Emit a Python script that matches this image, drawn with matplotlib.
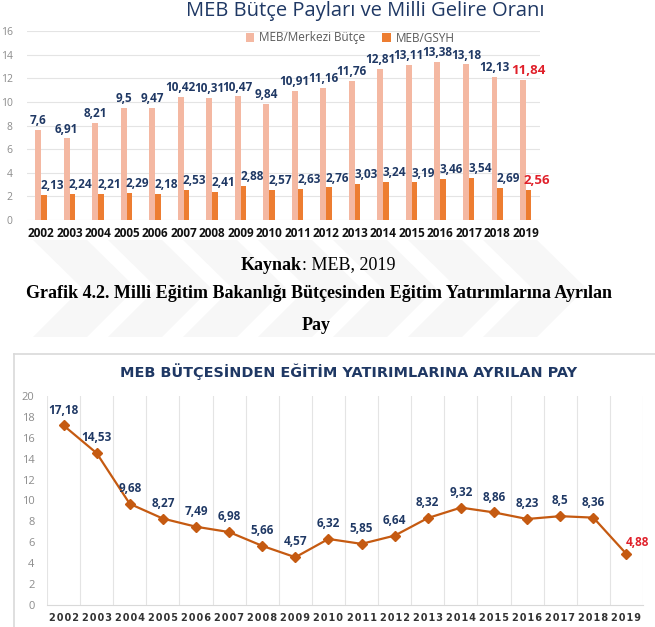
import matplotlib
matplotlib.use("Agg")
import matplotlib.pyplot as plt
import numpy as np
from matplotlib.lines import Line2D
from matplotlib.patches import Polygon


# -----
# DATA
# -----
years = ["2002", "2003", "2004", "2005", "2006", "2007", "2008", "2009", "2010",
         "2011", "2012", "2013", "2014", "2015", "2016", "2017", "2018", "2019"]
meb_merkezi = [7.6, 6.91, 8.21, 9.5, 9.47, 10.42, 10.31, 10.47, 9.84,
               10.91, 11.16, 11.76, 12.81, 13.11, 13.38, 13.18, 12.13, 11.84]
meb_gsyh = [2.13, 2.24, 2.21, 2.29, 2.18, 2.53, 2.41, 2.88, 2.57,
            2.63, 2.76, 3.03, 3.24, 3.19, 3.46, 3.54, 2.69, 2.56]
yatirim_payi = [17.18, 14.53, 9.68, 8.27, 7.49, 6.98, 5.66, 4.57, 6.32,
                5.85, 6.64, 8.32, 9.32, 8.86, 8.23, 8.5, 8.36, 4.88]

W, H = 655, 627
NAVY = "#1F3864"
RED = "#E0202A"
PINK = "#F4B8A2"
ORANGE = "#ED7D31"
LINE_COLOR = "#C55A11"
SANS = ["Open Sans", "DejaVu Sans"]
SERIF = ["Liberation Serif", "DejaVu Serif"]


def fx(px):
    return px / W


def fy(px):
    return 1 - px / H


def fmt(v):
    return f"{v:g}".replace(".", ",")


fig = plt.figure(figsize=(W / 100, H / 100), dpi=100)
fig.patch.set_facecolor("white")

# faint watermark chevrons behind the captions
for k in range(7):
    x0 = 33 + 75 * k
    pts = [(x0, 337), (x0 + 54, 337), (x0 + 54 + 49, 288), (x0 + 54, 240),
           (x0, 240), (x0 + 49, 288)]
    fig.add_artist(Polygon([(fx(a), fy(b)) for a, b in pts], closed=True,
                           facecolor="#F7F7F7", edgecolor="none",
                           transform=fig.transFigure, zorder=0))

# -------------------------
# TOP CHART - BAR CHART
# -------------------------
ax1 = fig.add_axes([fx(26.75), fy(220), fx(513.25), 189 / H])
x = np.arange(len(years))
bw = 0.2
ax1.bar(x - bw / 2, meb_merkezi, bw, color=PINK, label="MEB/Merkezi Bütçe", zorder=2)
ax1.bar(x + bw / 2, meb_gsyh, bw, color=ORANGE, label="MEB/GSYH", zorder=2)

ax1.set_xlim(-0.5, len(years) - 0.5)
ax1.set_ylim(0, 16)
ax1.set_yticks(range(0, 17, 2))
ax1.set_xticks(x)
ax1.set_xticklabels(years, family=SANS, fontweight="bold", fontsize=8.5, color="#111111")
ax1.tick_params(axis="x", length=0, pad=5)
ax1.tick_params(axis="y", length=0, pad=10, labelsize=7.5, labelcolor="#8C8C8C")
for lab in ax1.get_yticklabels():
    lab.set_family(SANS)
for s in ax1.spines.values():
    s.set_visible(False)
ax1.yaxis.grid(True, color="#E4E4E4", linewidth=0.8, zorder=0)
ax1.set_axisbelow(True)

last = len(years) - 1
for i in range(len(years)):
    c = RED if i == last else NAVY
    fs = 9.5 if i == last else 8.5
    ax1.annotate(fmt(meb_merkezi[i]), (x[i] - bw / 2, meb_merkezi[i]), xytext=(0 if i != last else 4, 2),
                 textcoords="offset points", ha="center", va="bottom", color=c,
                 fontsize=fs, fontweight="bold", family=SANS, zorder=3)
    ax1.annotate(fmt(meb_gsyh[i]), (x[i] + bw / 2, meb_gsyh[i]), xytext=(6, 2),
                 textcoords="offset points", ha="center", va="bottom", color=c,
                 fontsize=fs, fontweight="bold", family=SANS, zorder=3)

fig.text(fx(365), fy(11), "MEB Bütçe Payları ve Milli Gelire Oranı", ha="center", va="center",
         fontsize=14.5, color=NAVY, family=SANS, fontweight="medium")
fig.legend(loc="center", bbox_to_anchor=(fx(350), fy(38)), ncol=2, frameon=False,
           prop={"family": SANS, "size": 8.5}, labelcolor="#595959",
           handlelength=0.7, handleheight=0.7, handletextpad=0.4, columnspacing=1.5)

# ---------
# CAPTIONS
# ---------
t1 = fig.text(fx(241), fy(265), "Kaynak", ha="left", va="center", fontsize=13,
              fontweight="bold", family=SERIF)
fig.canvas.draw()
bb = t1.get_window_extent()
fig.text(bb.x1 / fig.dpi / fig.get_figwidth(), fy(265), ": MEB, 2019", ha="left", va="center",
         fontsize=13, family=SERIF)
fig.text(fx(319.5), fy(293), "Grafik 4.2. Milli Eğitim Bakanlığı Bütçesinden Eğitim Yatırımlarına Ayrılan",
         ha="center", va="center", fontsize=13, fontweight="bold", family=SERIF)
fig.text(fx(316), fy(325), "Pay", ha="center", va="center", fontsize=13, fontweight="bold", family=SERIF)

# ---------------------------
# BOTTOM CHART - LINE CHART
# ---------------------------
fig.add_artist(Line2D([fx(14), fx(14)], [fy(354), 0], color="#D9D9D9", linewidth=1.2,
                      transform=fig.transFigure))
fig.add_artist(Line2D([fx(14), 1], [fy(354), fy(354)], color="#D9D9D9", linewidth=1.2,
                      transform=fig.transFigure))
fig.text(fx(349), fy(372), "MEB BÜTÇESİNDEN EĞİTİM YATIRIMLARINA AYRILAN PAY",
         ha="center", va="center", fontsize=10.4, fontweight="bold", color=NAVY, family="DejaVu Sans")

ax2 = fig.add_axes([fx(47), 22 / H, fx(596), 209 / H])
ax2.plot(x, yatirim_payi, color=LINE_COLOR, linewidth=1.6, marker="D", markersize=5, zorder=3)
ax2.set_xlim(-0.5, len(years) - 0.5)
ax2.set_ylim(0, 20)
ax2.set_yticks(range(0, 21, 2))
ax2.set_xticks(x)
ax2.set_xticklabels(["\u200a".join(y) for y in years], family="DejaVu Sans", fontweight="bold",
                    fontsize=7, color="#333333")
ax2.set_xticks(np.arange(-0.5, len(years), 1), minor=True)
ax2.xaxis.grid(True, which="minor", color="#E4E4E4", linewidth=0.8, zorder=0)
ax2.tick_params(axis="x", which="both", length=0, pad=6)
ax2.tick_params(axis="y", length=0, pad=9, labelsize=8, labelcolor="#8C8C8C")
for lab in ax2.get_yticklabels():
    lab.set_family(SANS)
for name, s in ax2.spines.items():
    s.set_visible(name == "bottom")
ax2.spines["bottom"].set_color("#D9D9D9")

for i, v in enumerate(yatirim_payi):
    if i == last:
        ax2.annotate(fmt(v), (x[i], v), xytext=(8, 8), textcoords="offset points",
                     ha="center", va="center", color=RED, fontsize=8.5, fontweight="bold", family=SANS)
    else:
        ax2.annotate(fmt(v), (x[i], v), xytext=(0, 11), textcoords="offset points",
                     ha="center", va="center", color=NAVY, fontsize=8.5, fontweight="bold", family=SANS)

fig.savefig("out.png", dpi=100, facecolor="white")
